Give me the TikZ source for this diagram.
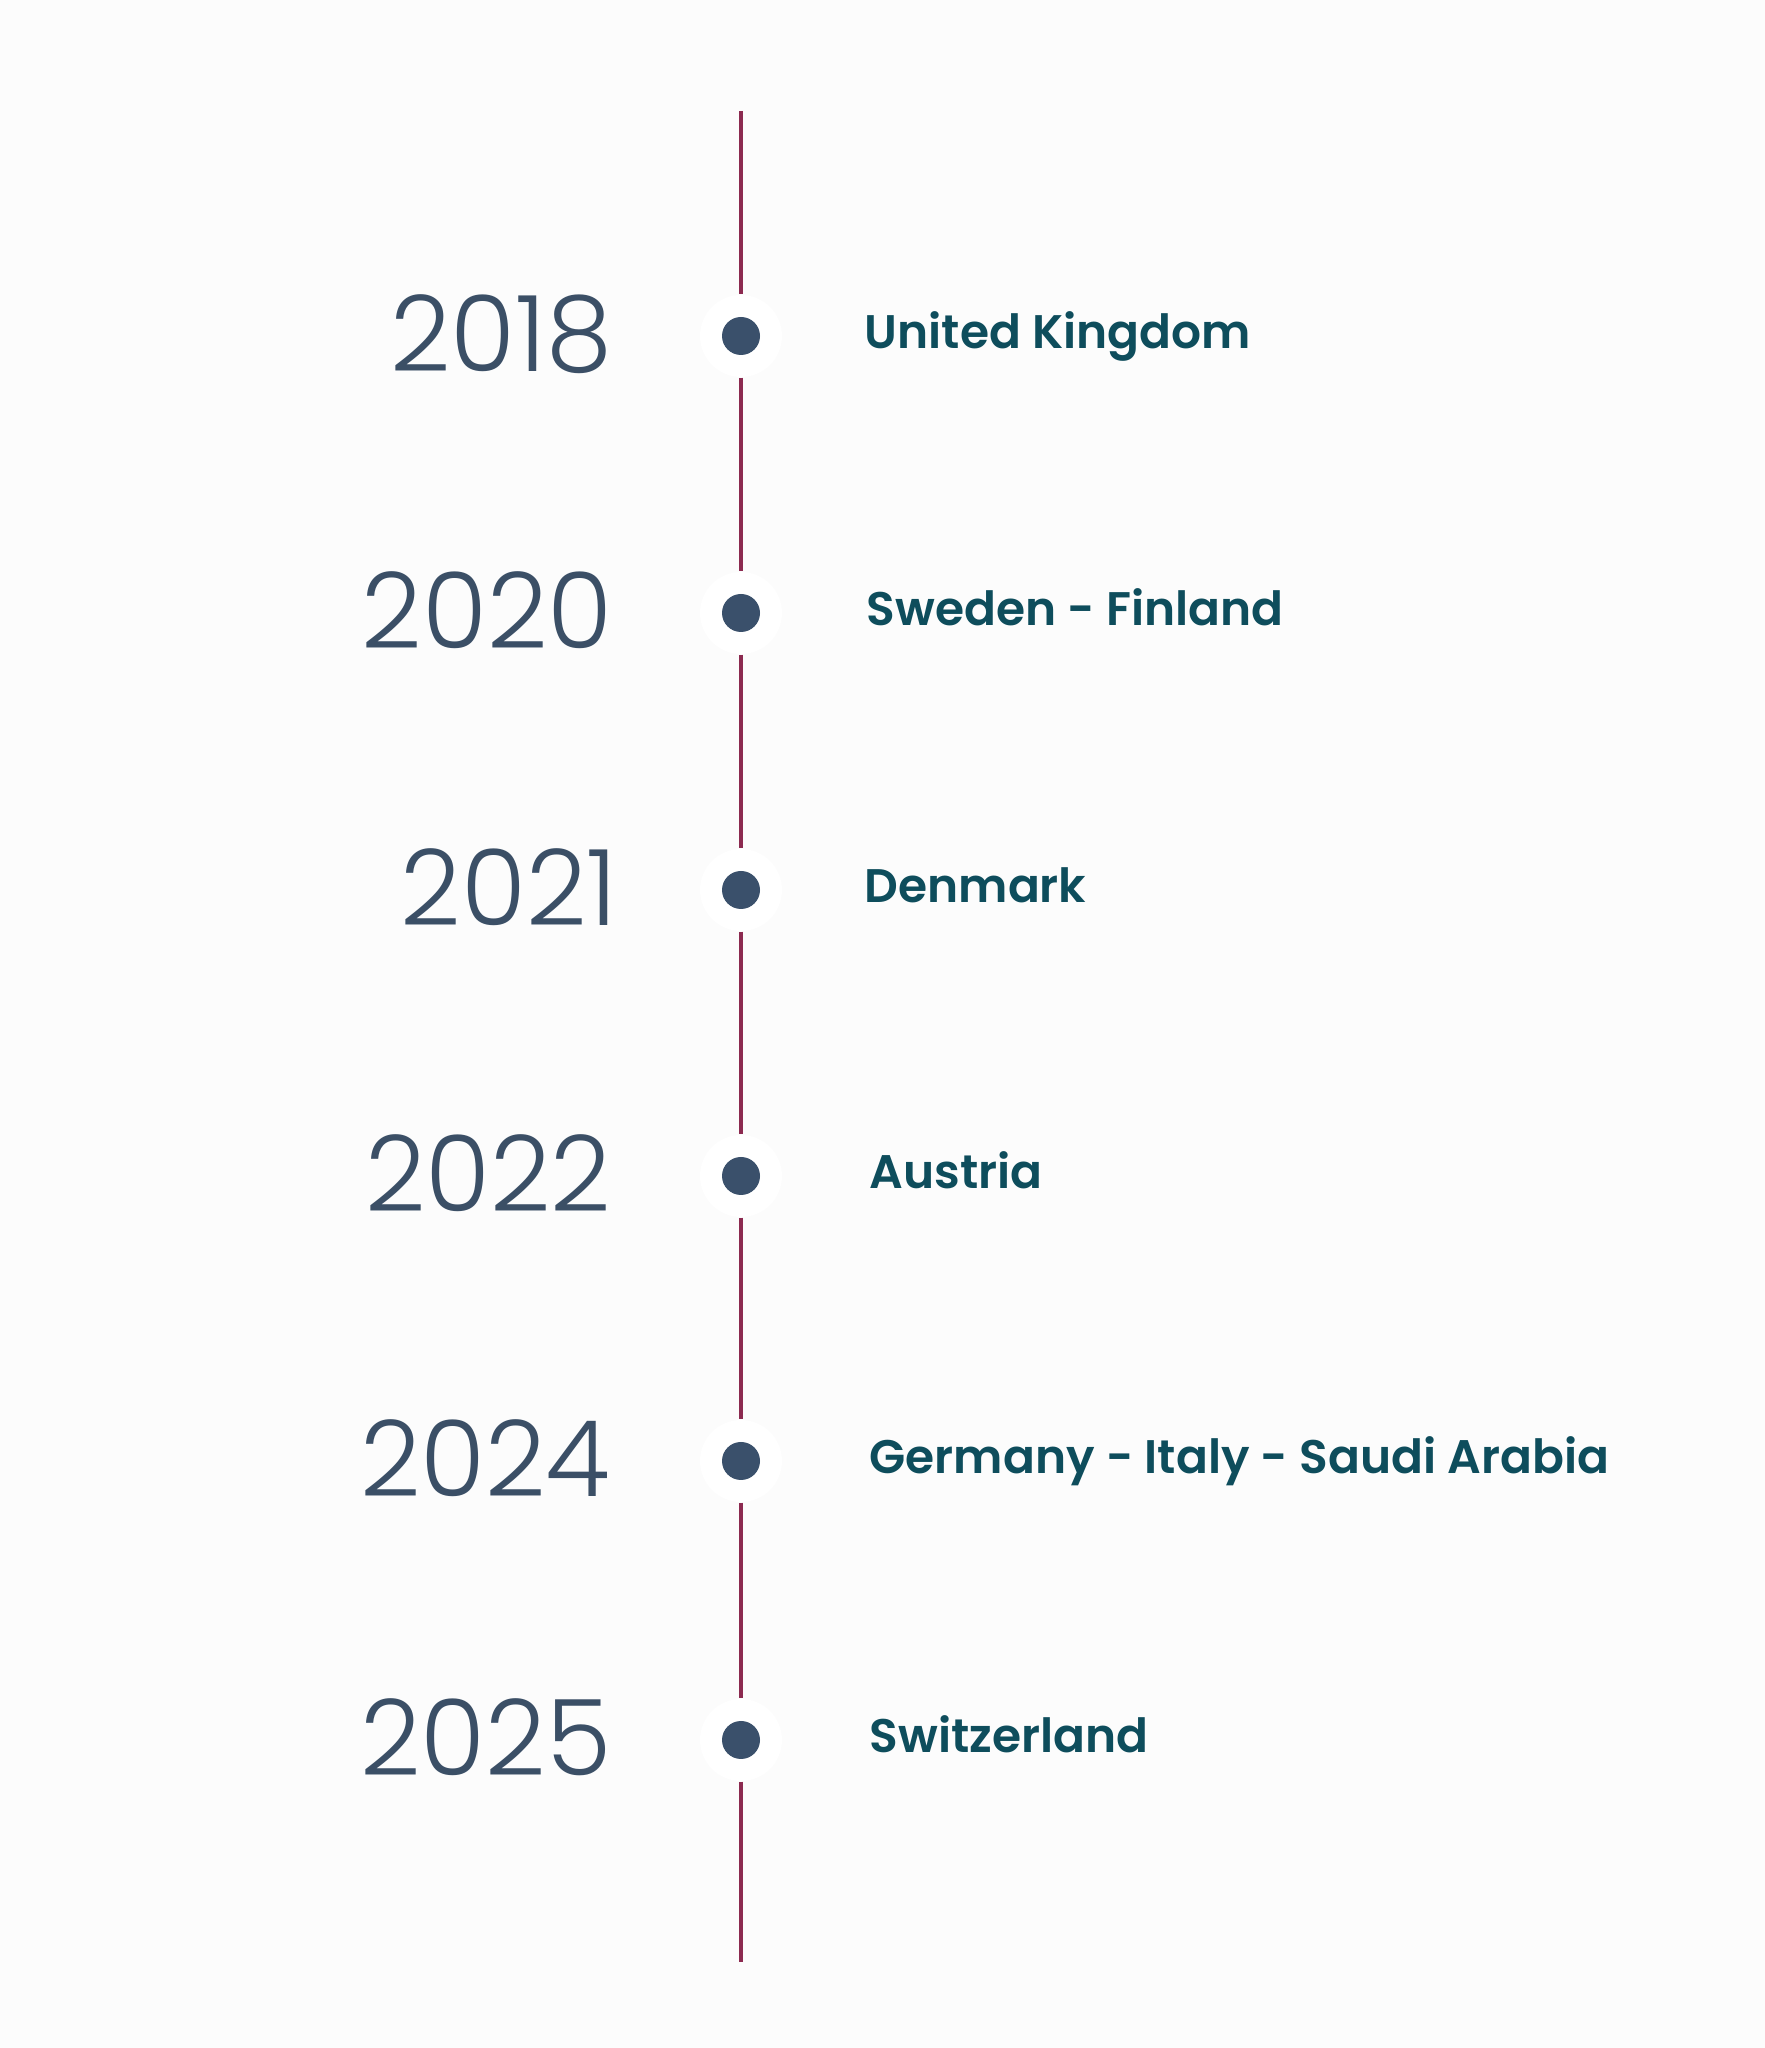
\documentclass[tikz,border=0pt]{standalone}
\usepackage{fontspec}
\setmainfont{Poppins}
\newfontfamily\yearfont{Poppins Light}
\newfontfamily\placefont{Poppins SemiBold}
\usetikzlibrary{positioning}

\definecolor{bgcol}{HTML}{FCFCFC}
\definecolor{spinecol}{HTML}{8C2A50}
\definecolor{dotcol}{HTML}{3A506B}
\definecolor{yearcol}{HTML}{3B4F66}
\definecolor{placecol}{HTML}{0E4D5C}

\begin{document}
\begin{tikzpicture}[
    year/.style={anchor=base east, inner sep=0pt, text=yearcol, font=\yearfont\fontsize{30}{30}\selectfont},
    place/.style={anchor=base west, inner sep=0pt, text=placecol, font=\placefont\fontsize{13.4}{14}\selectfont},
    halo/.style={circle, fill=white, inner sep=0pt, minimum size=0.82cm,
        path picture={\fill[dotcol] (path picture bounding box.center) circle (0.19);}},
    spine/.style={draw=spinecol, line width=0.9pt}
]

% background
\fill[bgcol] (0,0) rectangle (17.65,20.48);
\useasboundingbox (0,0) rectangle (17.65,20.48);

% ends of the time line
\coordinate (top) at (7.41,19.37);
\coordinate (bottom) at (7.41,0.86);

% milestones
\node[halo] (m2018) at (7.41,17.12) {};
\node[halo] (m2020) at (7.41,14.35) {};
\node[halo] (m2021) at (7.41,11.58) {};
\node[halo] (m2022) at (7.41,8.72) {};
\node[halo] (m2024) at (7.41,5.87) {};
\node[halo] (m2025) at (7.41,3.08) {};

% years
\node[year] (y2018) at (6.13,16.76) {2018};
\node[year] (y2020) at (6.13,13.99) {2020};
\node[year] (y2021) at (6.18,11.22) {2021};
\node[year] (y2022) at (6.12,8.36) {2022};
\node[year] (y2024) at (6.11,5.51) {2024};
\node[year] (y2025) at (6.12,2.72) {2025};

% countries
\node[place] (p2018) at (8.64,16.99) {United Kingdom};
\node[place] (p2020) at (8.66,14.22) {Sweden - Finland};
\node[place] (p2021) at (8.64,11.45) {Denmark};
\node[place] (p2022) at (8.69,8.59) {Austria};
\node[place] (p2024) at (8.69,5.74) {Germany - Italy - Saudi Arabia};
\node[place] (p2025) at (8.69,2.95) {Switzerland};

% time line
\draw[spine] (top) -- (m2018);
\draw[spine] (m2018) -- (m2020);
\draw[spine] (m2020) -- (m2021);
\draw[spine] (m2021) -- (m2022);
\draw[spine] (m2022) -- (m2024);
\draw[spine] (m2024) -- (m2025);
\draw[spine] (m2025) -- (bottom);

\end{tikzpicture}
\end{document}
